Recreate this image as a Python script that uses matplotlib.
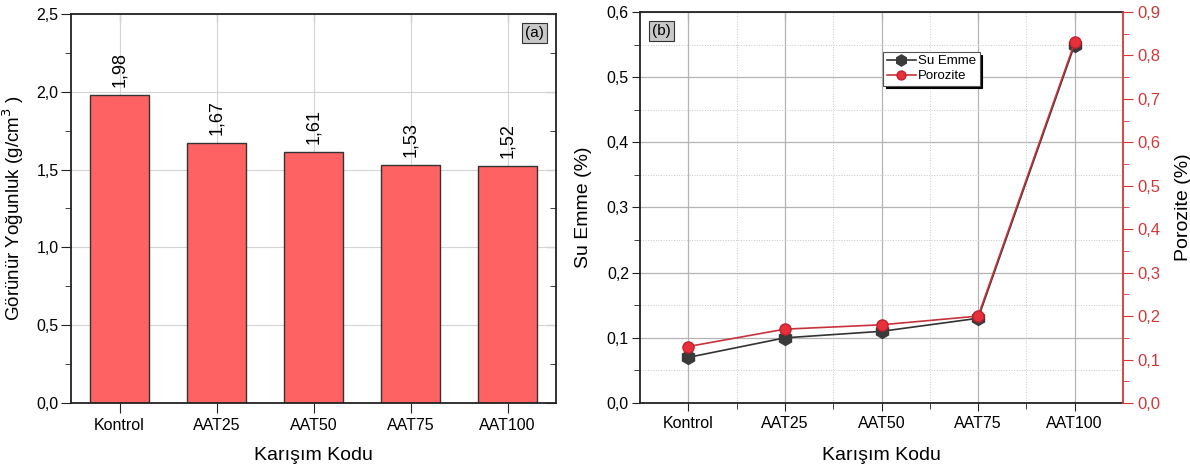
import matplotlib.pyplot as plt
import numpy as np
from matplotlib.ticker import FuncFormatter, MultipleLocator

plt.rcParams['font.family'] = ['Liberation Sans', 'DejaVu Sans']

# data
categories = ['Kontrol', 'AAT25', 'AAT50', 'AAT75', 'AAT100']
density = [1.98, 1.67, 1.61, 1.53, 1.52]
su_emme = [0.07, 0.10, 0.11, 0.13, 0.55]
porozite = [0.13, 0.17, 0.18, 0.20, 0.83]

comma1 = FuncFormatter(lambda v, p: f'{v:.1f}'.replace('.', ','))
x = np.arange(len(categories))
W, H = 1190, 468

fig = plt.figure(figsize=(11.9, 4.68), dpi=100)
ax1 = fig.add_axes([71 / W, (H - 403) / H, 485 / W, 389 / H])
ax2 = fig.add_axes([640 / W, (H - 403) / H, 483 / W, 391 / H])

# (a) bar chart
ax1.set_axisbelow(True)
bars = ax1.bar(x, density, 0.6, color='#FF6262', edgecolor='#333333', linewidth=1)
for b, v in zip(bars, density):
    ax1.annotate(f'{v:.2f}'.replace('.', ','), xy=(b.get_x() + b.get_width() / 2, v),
                 xytext=(0, 6), textcoords='offset points', ha='center', va='bottom',
                 rotation=90, fontsize=13)
ax1.set_xlim(-0.5, 4.5)
ax1.set_ylim(0, 2.5)
ax1.yaxis.set_major_locator(MultipleLocator(0.5))
ax1.yaxis.set_minor_locator(MultipleLocator(0.25))
ax1.yaxis.set_major_formatter(comma1)
ax1.set_xticks(x, categories)
ax1.grid(True, color='#d4d4d4', linewidth=0.8)
ax1.tick_params(axis='both', which='both', labelsize=11.5, color='#222222', direction='out')
ax1.tick_params(axis='both', which='major', length=7)
ax1.tick_params(axis='y', which='minor', length=4)
ax1.tick_params(axis='y', pad=2)
sec_t = ax1.secondary_xaxis('top')
sec_t.set_xticks(x)
sec_t.tick_params(direction='in', length=6, labeltop=False, color='#222222')
sec_r = ax1.secondary_yaxis('right')
sec_r.yaxis.set_major_locator(MultipleLocator(0.5))
sec_r.yaxis.set_minor_locator(MultipleLocator(0.25))
sec_r.tick_params(which='major', direction='in', length=7, labelright=False, color='#222222')
sec_r.tick_params(which='minor', direction='in', length=4, color='#222222')
for s in ax1.spines.values():
    s.set_linewidth(1.3)
    s.set_color('#222222')
sec_t.spines['top'].set_visible(False)
sec_r.spines['right'].set_visible(False)
ax1.set_xlabel('Karışım Kodu', fontsize=14)
ax1.xaxis.set_label_coords(0.5, -0.112)
ax1.set_ylabel('Görünür Yoğunluk (g/cm$^3$ )', fontsize=13.5)
ax1.yaxis.set_label_coords(-0.092, 0.5)
ax1.text(0.975, 0.97, '(a)', transform=ax1.transAxes, ha='right', va='top', fontsize=11,
         bbox=dict(boxstyle='square,pad=0.2', facecolor='#c8c8c8', edgecolor='#333333', linewidth=0.8))

# (b) line chart with twin axis
ax3 = ax2.twinx()
ax2.set_axisbelow(True)
ax2.plot(x, su_emme, color='#333333', linewidth=1.2, marker='h', markersize=10,
         markerfacecolor='#3a3a3a', markeredgecolor='#3a3a3a', label='Su Emme', zorder=3)
ax3.plot(x, porozite, color='#C8323C', linewidth=1.2, marker='o', markersize=8,
         markerfacecolor='#E8303A', markeredgecolor='#C02030', label='Porozite', zorder=4)
ax2.set_xlim(-0.5, 4.5)
ax2.set_ylim(0, 0.6)
ax3.set_ylim(0, 0.9)
ax2.yaxis.set_major_locator(MultipleLocator(0.1))
ax2.yaxis.set_minor_locator(MultipleLocator(0.05))
ax2.yaxis.set_major_formatter(comma1)
ax3.yaxis.set_major_locator(MultipleLocator(0.1))
ax3.yaxis.set_minor_locator(MultipleLocator(0.05))
ax3.yaxis.set_major_formatter(comma1)
ax2.set_xticks(x, categories)
ax2.set_xticks(x[:-1] + 0.5, minor=True)
ax2.grid(True, which='major', color='#b4b4b4', linewidth=0.9)
ax2.grid(True, which='minor', color='#c8c8c8', linewidth=0.7, linestyle=':')
ax2.tick_params(axis='both', which='both', labelsize=11.5, color='#222222', direction='out')
ax2.tick_params(which='major', length=6)
ax2.tick_params(which='minor', length=4)
ax2.tick_params(axis='y', pad=2)
ax3.tick_params(axis='y', which='both', colors='#D03838', labelsize=12, direction='out')
ax3.tick_params(which='major', length=7)
ax3.tick_params(which='minor', length=4)
sec_t2 = ax2.secondary_xaxis('top')
sec_t2.set_xticks(x)
sec_t2.tick_params(direction='in', length=6, labeltop=False, color='#222222')
sec_t2.spines['top'].set_visible(False)
for s in ax2.spines.values():
    s.set_linewidth(1.3)
    s.set_color('#222222')
ax3.spines['right'].set_color('#D03838')
ax3.spines['right'].set_linewidth(1.3)
ax3.spines['left'].set_visible(False)
ax3.spines['top'].set_visible(False)
ax3.spines['bottom'].set_visible(False)
ax2.spines['right'].set_visible(False)
ax2.set_xlabel('Karışım Kodu', fontsize=14)
ax2.xaxis.set_label_coords(0.5, -0.112)
ax2.set_ylabel('Su Emme (%)', fontsize=14)
ax2.yaxis.set_label_coords(-0.1, 0.5)
ax3.set_ylabel('Porozite (%)', fontsize=14)
ax3.yaxis.set_label_coords(1.107, 0.5)
ax2.text(0.025, 0.97, '(b)', transform=ax2.transAxes, ha='left', va='top', fontsize=11,
         bbox=dict(boxstyle='square,pad=0.2', facecolor='#c8c8c8', edgecolor='#333333', linewidth=0.8))

h1, l1 = ax2.get_legend_handles_labels()
h2, l2 = ax3.get_legend_handles_labels()
leg = ax3.legend(h1 + h2, l1 + l2, loc='upper left', bbox_to_anchor=(0.49, 0.915),
                 fontsize=9.5, frameon=True, fancybox=False, shadow={'color': 'black', 'alpha': 1},
                 edgecolor='#555555', handlelength=2.2, handletextpad=0.2, borderpad=0.25,
                 labelspacing=0.2, markerscale=0.8)
leg.get_frame().set_linewidth(0.8)

fig.savefig('out.png', dpi=100)
